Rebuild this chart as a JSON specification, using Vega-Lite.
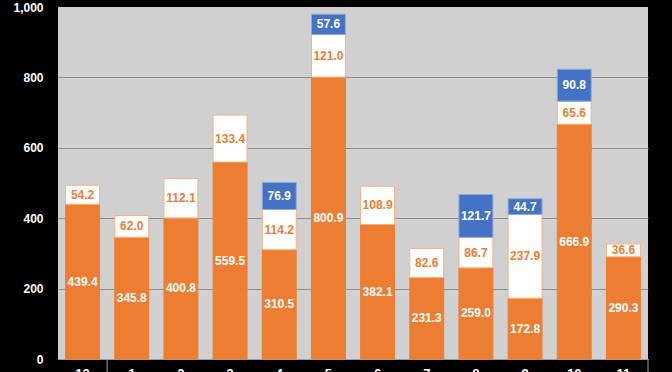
{
"$schema": "https://vega.github.io/schema/vega-lite/v6.json",
"width": 590,
"height": 352,
"autosize": {"type": "none"},
"padding": {"left": 58, "top": 7, "right": 24, "bottom": 13},
"background": "black",
"config": {"view": {"fill": "#d0d0d0", "stroke": null}, "font": "Liberation Sans"},
"data": {"values": [
{"m": "12", "seg": "a", "v": 439.4}, {"m": "12", "seg": "b", "v": 54.2},
{"m": "1", "seg": "a", "v": 345.8}, {"m": "1", "seg": "b", "v": 62.0},
{"m": "2", "seg": "a", "v": 400.8}, {"m": "2", "seg": "b", "v": 112.1},
{"m": "3", "seg": "a", "v": 559.5}, {"m": "3", "seg": "b", "v": 133.4},
{"m": "4", "seg": "a", "v": 310.5}, {"m": "4", "seg": "b", "v": 114.2}, {"m": "4", "seg": "c", "v": 76.9},
{"m": "5", "seg": "a", "v": 800.9}, {"m": "5", "seg": "b", "v": 121.0}, {"m": "5", "seg": "c", "v": 57.6},
{"m": "6", "seg": "a", "v": 382.1}, {"m": "6", "seg": "b", "v": 108.9},
{"m": "7", "seg": "a", "v": 231.3}, {"m": "7", "seg": "b", "v": 82.6},
{"m": "8", "seg": "a", "v": 259.0}, {"m": "8", "seg": "b", "v": 86.7}, {"m": "8", "seg": "c", "v": 121.7},
{"m": "9", "seg": "a", "v": 172.8}, {"m": "9", "seg": "b", "v": 237.9}, {"m": "9", "seg": "c", "v": 44.7},
{"m": "10", "seg": "a", "v": 666.9}, {"m": "10", "seg": "b", "v": 65.6}, {"m": "10", "seg": "c", "v": 90.8},
{"m": "11", "seg": "a", "v": 290.3}, {"m": "11", "seg": "b", "v": 36.6}
]},
"encoding": {
  "x": {"field": "m", "type": "ordinal", "sort": ["12","1","2","3","4","5","6","7","8","9","10","11"],
        "scale": {"paddingInner": 0, "paddingOuter": 0},
        "axis": {"title": null, "labelAngle": 0, "labelColor": "white", "labelFontSize": 13, "labelFontWeight": "bold", "labelPadding": 8, "ticks": false, "domainColor": "#a0a0a0"}}
},
"layer": [
  {
    "transform": [{"stack": "v", "groupby": ["m"], "sort": [{"field": "seg"}], "as": ["y0", "y1"]}],
    "mark": {"type": "bar", "width": {"band": 0.69}, "strokeWidth": 1},
    "encoding": {
      "y": {"field": "y0", "type": "quantitative", "scale": {"domain": [0, 1000]},
            "axis": {"values": [0, 200, 400, 600, 800, 1000], "format": ",d", "title": null, "grid": true, "gridColor": "#8f8f8f",
                     "gridOpacity": {"condition": {"test": "datum.value == 1000", "value": 0}, "value": 1},
                     "domain": false, "ticks": false, "labelPadding": 15, "labelColor": "white", "labelFontSize": 12, "labelFontWeight": "bold"}},
      "y2": {"field": "y1"},
      "fill": {"field": "seg", "type": "nominal", "scale": {"domain": ["a", "b", "c"], "range": ["#ED7D31", "#FFFFFF", "#4472C4"]}, "legend": null},
      "stroke": {"field": "seg", "type": "nominal", "scale": {"domain": ["a", "b", "c"], "range": ["#ED7D31", "#F4B183", "#8FAADC"]}, "legend": null}
    }
  },
  {
    "transform": [{"stack": "v", "groupby": ["m"], "sort": [{"field": "seg"}], "as": ["y0", "y1"]},
                  {"calculate": "(datum.y0 + datum.y1) / 2", "as": "ym"}],
    "mark": {"type": "text", "fontWeight": "bold", "fontSize": 12},
    "encoding": {
      "y": {"field": "ym", "type": "quantitative"},
      "text": {"field": "v", "type": "quantitative", "format": ".1f"},
      "color": {"condition": {"test": "datum.seg === 'b'", "value": "#ED7D31"}, "value": "white"}
    }
  },
  {
    "data": {"values": [{"p": 1}]},
    "mark": {"type": "rule", "color": "#a0a0a0", "strokeWidth": 1},
    "encoding": {"x": {"datum": "1", "bandPosition": 0}, "y": {"datum": 0}, "y2": {"datum": -60}}
  },
  {
    "data": {"values": [{"p": 1}]},
    "mark": {"type": "rule", "color": "#a0a0a0", "strokeWidth": 1},
    "encoding": {"x": {"datum": "11", "bandPosition": 1}, "y": {"datum": 0}, "y2": {"datum": -60}}
  }
]
}
